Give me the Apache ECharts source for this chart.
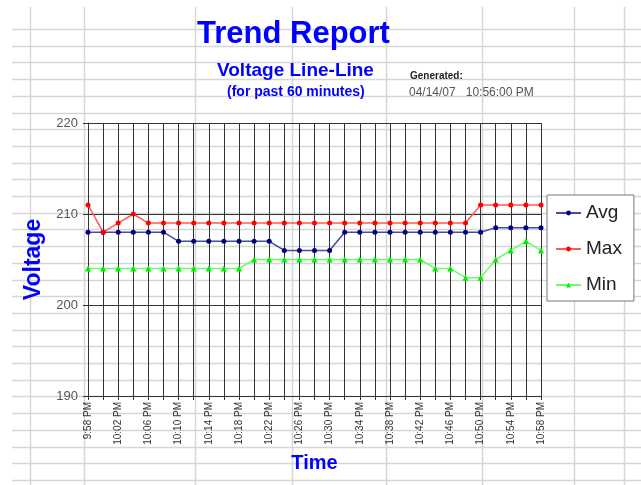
<!DOCTYPE html>
<html>
<head>
<meta charset="utf-8">
<title>Trend Report</title>
<script src="https://cdn.jsdelivr.net/npm/echarts@6/dist/echarts.min.js"></script>
<style>
  html, body { margin: 0; padding: 0; background: #fff; }
  #chart { width: 641px; height: 485px; }
</style>
</head>
<body>
<div id="chart"></div>
<script>
  // time of each reading (every 2 minutes)
  var times = [
    "9:58 PM", "10:00 PM", "10:02 PM", "10:04 PM", "10:06 PM", "10:08 PM", "10:10 PM", "10:12 PM",
    "10:14 PM", "10:16 PM", "10:18 PM", "10:20 PM", "10:22 PM", "10:24 PM", "10:26 PM", "10:28 PM",
    "10:30 PM", "10:32 PM", "10:34 PM", "10:36 PM", "10:38 PM", "10:40 PM", "10:42 PM", "10:44 PM",
    "10:46 PM", "10:48 PM", "10:50 PM", "10:52 PM", "10:54 PM", "10:56 PM", "10:58 PM"
  ];
  var avgVolts = [208, 208, 208, 208, 208, 208, 207, 207, 207, 207, 207, 207, 207, 206, 206, 206,
                  206, 208, 208, 208, 208, 208, 208, 208, 208, 208, 208, 208.5, 208.5, 208.5, 208.5];
  var maxVolts = [211, 208, 209, 210, 209, 209, 209, 209, 209, 209, 209, 209, 209, 209, 209, 209,
                  209, 209, 209, 209, 209, 209, 209, 209, 209, 209, 211, 211, 211, 211, 211];
  var minVolts = [204, 204, 204, 204, 204, 204, 204, 204, 204, 204, 204, 205, 205, 205, 205, 205,
                  205, 205, 205, 205, 205, 205, 205, 204, 204, 203, 203, 205, 206, 207, 206];
  var voltTicks = [190, 200, 210, 220];

  var font = "Liberation Sans";
  var blue = "#0000ff";

  // spreadsheet cells behind the chart
  var sheetCols = [30, 84, 195, 292, 386, 482, 574, 624];
  var sheet = [];
  for (var i = 0; i < 28; i++) {
    var y = Math.round(29 + i * 16.7) + 0.5;
    sheet.push({ type: "line", silent: true, z: -10,
      shape: { x1: 12, y1: y, x2: 641, y2: y },
      style: { stroke: "#d6d6d6", lineWidth: 1.5 } });
  }
  sheetCols.forEach(function (x) {
    sheet.push({ type: "line", silent: true, z: -10,
      shape: { x1: x + 0.5, y1: 7, x2: x + 0.5, y2: 485 },
      style: { stroke: "#d6d6d6", lineWidth: 1.5 } });
  });

  var myChart = echarts.init(document.getElementById("chart"));
  var option = {
    backgroundColor: "#fff",
    animation: false,
    graphic: sheet,
    title: [
      { text: "Trend Report", left: 192, top: 14,
        textStyle: { fontFamily: font, fontSize: 31, fontWeight: "bold", color: blue } },
      { text: "Voltage Line-Line", left: 212, top: 56,
        textStyle: { fontFamily: font, fontSize: 19, fontWeight: "bold", color: blue } },
      { text: "(for past 60 minutes)", left: 222, top: 80,
        textStyle: { fontFamily: font, fontSize: 14, fontWeight: "bold", color: blue } },
      { text: "Generated:", left: 405, top: 66,
        textStyle: { fontFamily: font, fontSize: 10, fontWeight: "bold", color: "#222" } },
      { text: "04/14/07   10:56:00 PM", left: 404, top: 82,
        textStyle: { fontFamily: font, fontSize: 12, fontWeight: "normal", color: "#555" } }
    ],
    legend: {
      orient: "vertical",
      left: 547,
      top: 195,
      padding: [8, 12, 6, 8],
      itemWidth: 25,
      itemHeight: 6,
      itemGap: 16,
      backgroundColor: "#fff",
      borderColor: "#777",
      borderWidth: 1,
      textStyle: { fontFamily: font, fontSize: 19, color: "#222", lineHeight: 20 },
      data: ["Avg", "Max", "Min"]
    },
    grid: { left: 88, right: 100, top: 123, bottom: 89 },
    xAxis: {
      type: "category",
      data: times,
      boundaryGap: false,
      name: "Time",
      nameLocation: "middle",
      nameGap: 57,
      nameTextStyle: { fontFamily: font, fontSize: 20, fontWeight: "bold", color: blue },
      axisLine: { lineStyle: { color: "#333", width: 1 } },
      axisTick: { show: true, interval: 0, length: 4, lineStyle: { color: "#333" } },
      axisLabel: { interval: 1, rotate: 90, margin: 6, fontFamily: font, fontSize: 10, color: "#333" },
      splitLine: { show: true, interval: 0, lineStyle: { color: "#333", width: 1 } }
    },
    yAxis: {
      type: "value",
      min: voltTicks[0],
      max: voltTicks[voltTicks.length - 1],
      interval: 10,
      name: "Voltage",
      nameLocation: "middle",
      nameRotate: 90,
      nameGap: 42,
      nameTextStyle: { fontFamily: font, fontSize: 23, fontWeight: "bold", color: blue },
      axisLine: { show: true, lineStyle: { color: "#333", width: 1 } },
      axisTick: { show: true, length: 5, lineStyle: { color: "#333" } },
      axisLabel: { margin: 10, fontFamily: font, fontSize: 13, color: "#555" },
      splitLine: { show: true, lineStyle: { color: "#333", width: 1 } }
    },
    series: [
      {
        name: "Avg", type: "line", data: avgVolts,
        symbol: "circle", symbolSize: 5,
        itemStyle: { color: "#000080" },
        lineStyle: { color: "#4a4aa0", width: 1.5 }
      },
      {
        name: "Max", type: "line", data: maxVolts,
        symbol: "circle", symbolSize: 5,
        itemStyle: { color: "#ff0000" },
        lineStyle: { color: "#ff5a5a", width: 1.5 }
      },
      {
        name: "Min", type: "line", data: minVolts,
        symbol: "triangle", symbolSize: 6,
        itemStyle: { color: "#00ee00" },
        lineStyle: { color: "#66ff66", width: 1.5 }
      }
    ]
  };
  myChart.setOption(option);
</script>
</body>
</html>
